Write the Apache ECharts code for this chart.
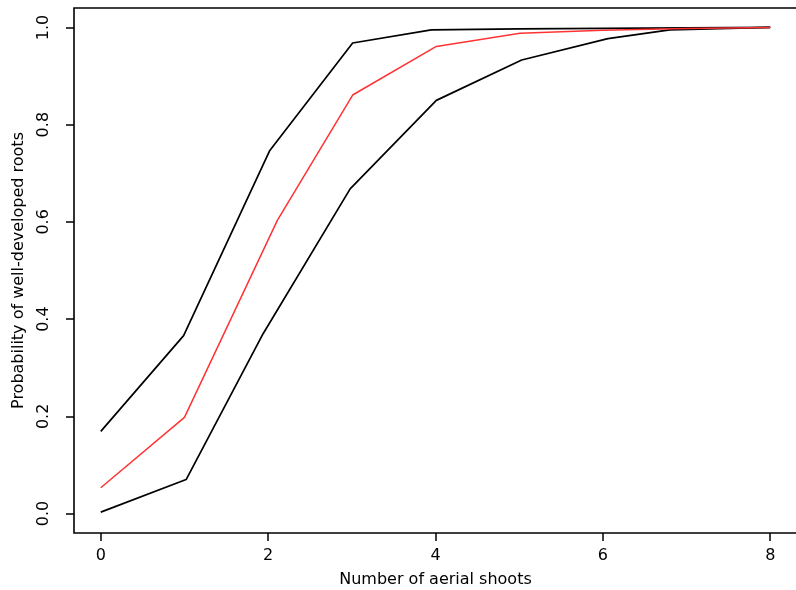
<!DOCTYPE html>
<html>
<head>
<meta charset="utf-8">
<script src="https://cdn.jsdelivr.net/npm/echarts@6/dist/echarts.min.js"></script>
<style>
html,body{margin:0;padding:0;background:#fff;}
#chart{width:796px;height:590px;}
</style>
</head>
<body>
<div id="chart"></div>
<script>
// Data
const upperX = [0, 0.99, 2.02, 3.01, 3.95, 5, 6, 7, 8];
const upperY = [0.169, 0.366, 0.747, 0.968, 0.995, 0.997, 0.998, 0.999, 1.0];
const fitX = [0, 1, 2.11, 3.01, 4.01, 5.01, 6, 7, 8];
const fitY = [0.053, 0.198, 0.603, 0.861, 0.961, 0.988, 0.994, 0.998, 1.0];
const lowerX = [0, 1.02, 1.94, 2.98, 4.01, 5.03, 6.06, 6.8, 8];
const lowerY = [0.003, 0.070, 0.370, 0.668, 0.850, 0.933, 0.977, 0.995, 1.0];
const xTicks = [0, 2, 4, 6, 8];
const yTicks = [0, 0.2, 0.4, 0.6, 0.8, 1.0];
const xTitle = 'Number of aerial shoots';
const yTitle = 'Probability of well-developed roots';

function pairs(xs, ys) { return xs.map((x, i) => [x, ys[i]]); }

const font = 'DejaVu Sans';
const chart = echarts.init(document.getElementById('chart'), null, {renderer: 'canvas'});
chart.setOption({
  animation: false,
  backgroundColor: '#fff',
  grid: {
    left: 74, top: 8, right: -1, bottom: 57,
    outerBoundsMode: 'none', containLabel: false,
    show: true, borderColor: '#000', borderWidth: 1.6, backgroundColor: 'transparent'
  },
  xAxis: {
    type: 'value', min: -0.32, max: 8.32,
    splitLine: {show: false},
    axisLine: {show: false, onZero: false},
    axisTick: {show: true, length: 8, lineStyle: {color: '#000', width: 1.5}, customValues: xTicks},
    axisLabel: {show: true, customValues: xTicks, color: '#000', fontFamily: font, fontSize: 16, margin: 15},
    name: xTitle, nameLocation: 'middle', nameGap: 39,
    nameTextStyle: {color: '#000', fontFamily: font, fontSize: 16}
  },
  yAxis: {
    type: 'value', min: -0.04, max: 1.04,
    splitLine: {show: false},
    axisLine: {show: false, onZero: false},
    axisTick: {show: true, length: 8, lineStyle: {color: '#000', width: 1.5}, customValues: yTicks},
    axisLabel: {show: true, customValues: yTicks, rotate: 90, color: '#000', fontFamily: font, fontSize: 16, margin: 22,
      formatter: v => v.toFixed(1)},
    name: yTitle, nameLocation: 'middle', nameGap: 47,
    nameTextStyle: {color: '#000', fontFamily: font, fontSize: 16}
  },
  series: [
    {type: 'line', data: pairs(upperX, upperY), symbol: 'none', lineStyle: {color: '#000', width: 1.7}},
    {type: 'line', data: pairs(lowerX, lowerY), symbol: 'none', lineStyle: {color: '#000', width: 1.7}},
    {type: 'line', data: pairs(fitX, fitY), symbol: 'none', lineStyle: {color: '#ff3333', width: 1.5}}
  ]
});
</script>
</body>
</html>
